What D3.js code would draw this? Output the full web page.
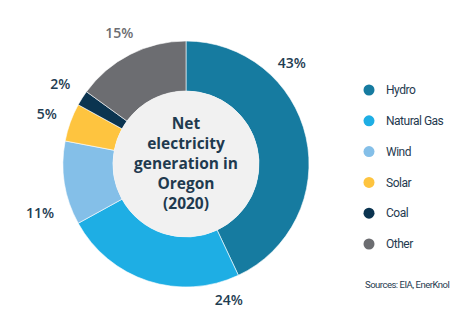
<html lang="en">
<head>
	<meta charset="utf-8">
	<title>Net electricity generation in Oregon (2020)</title>
	<script src="https://d3js.org/d3.v7.min.js"></script>
	<style>
		body {
			margin: 0;
			background: #fff;
		}
		svg {
			display: block;
		}
		.pct {
			font-family: "Open Sans", sans-serif;
			font-weight: 600;
			font-size: 14px;
		}
		.legend text {
			font-family: "Roboto", sans-serif;
			font-size: 12px;
			letter-spacing: -0.5px;
			fill: #1f3a4f;
		}
	</style>
</head>
<body>
	<svg id="chart" width="474" height="325"></svg>
<script>
	// generation mix, percent of total
	var sources = ["Hydro", "Natural Gas", "Wind", "Solar", "Coal", "Other"];
	var shares = [43, 24, 11, 5, 2, 15];
	var colors = ["#167ba0", "#1eaee4", "#84bfe8", "#fec43f", "#0b3450", "#6c6d71"];
	var titleLines = ["Net", "electricity", "generation in", "Oregon", "(2020)"];

	// where along each slice its label sits (0 = start, 1 = end) and how far out
	var labelAt = [0.3, 0.09, 0.26, 0.5, 0.5, 0.5];
	var labelR = [146, 143, 154, 148, 149, 147];

	var svg = d3.select("#chart"),
		cx = 186,
		cy = 164,
		outerR = 123,
		innerR = 73;

	var g = svg.append("g").attr("transform", "translate(" + cx + "," + cy + ")");

	var data = sources.map(function (s, i) {
		return {name: s, value: shares[i], color: colors[i], at: labelAt[i], r: labelR[i]};
	});

	var pie = d3.pie().sort(null).value(function (d) { return d.value; });
	var arc = d3.arc().innerRadius(innerR).outerRadius(outerR);

	var slices = pie(data);

	g.selectAll(".slice")
		.data(slices)
		.enter().append("path")
		.attr("class", "slice")
		.attr("d", arc)
		.attr("fill", function (d) { return d.data.color; })
		.attr("stroke", "#fff")
		.attr("stroke-width", 0.6);

	// centre disc
	g.append("circle")
		.attr("r", innerR)
		.attr("fill", "#f1f1f1");

	g.selectAll(".title")
		.data(titleLines)
		.enter().append("text")
		.attr("class", "title")
		.attr("text-anchor", "middle")
		.attr("y", function (d, i) { return -41 + i * 20 + 6; })
		.style("font-family", "'Open Sans', sans-serif")
		.style("font-weight", "700")
		.style("font-size", "15.5px")
		.attr("fill", "#1f3a4f")
		.text(function (d) { return d; });

	// percentage labels around the ring
	g.selectAll(".pct")
		.data(slices)
		.enter().append("text")
		.attr("class", "pct")
		.attr("text-anchor", "middle")
		.attr("dy", "0.35em")
		.attr("transform", function (d) {
			var a = d.startAngle + (d.endAngle - d.startAngle) * d.data.at;
			return "translate(" + (Math.sin(a) * d.data.r) + "," + (-Math.cos(a) * d.data.r) + ")";
		})
		.attr("fill", function (d) { return d.data.name === "Other" ? "#6c6d71" : "#1f3d52"; })
		.text(function (d) { return d.data.value + "%"; });

	// legend
	var legend = svg.append("g")
		.attr("class", "legend")
		.attr("transform", "translate(369,90)");

	var rows = legend.selectAll("g")
		.data(data)
		.enter().append("g")
		.attr("transform", function (d, i) { return "translate(0," + (i * 30.8) + ")"; });

	rows.append("circle")
		.attr("r", 5.5)
		.attr("fill", function (d) { return d.color; });

	rows.append("text")
		.attr("x", 17)
		.attr("dy", "0.35em")
		.text(function (d) { return d.name; });

	svg.append("text")
		.attr("x", 365)
		.attr("y", 288)
		.style("font-family", "'Roboto', sans-serif")
		.style("font-size", "9.5px")
		.style("letter-spacing", "-0.5px")
		.attr("fill", "#1f3a4f")
		.text("Sources: EIA, EnerKnol");
</script>
</body>
</html>
